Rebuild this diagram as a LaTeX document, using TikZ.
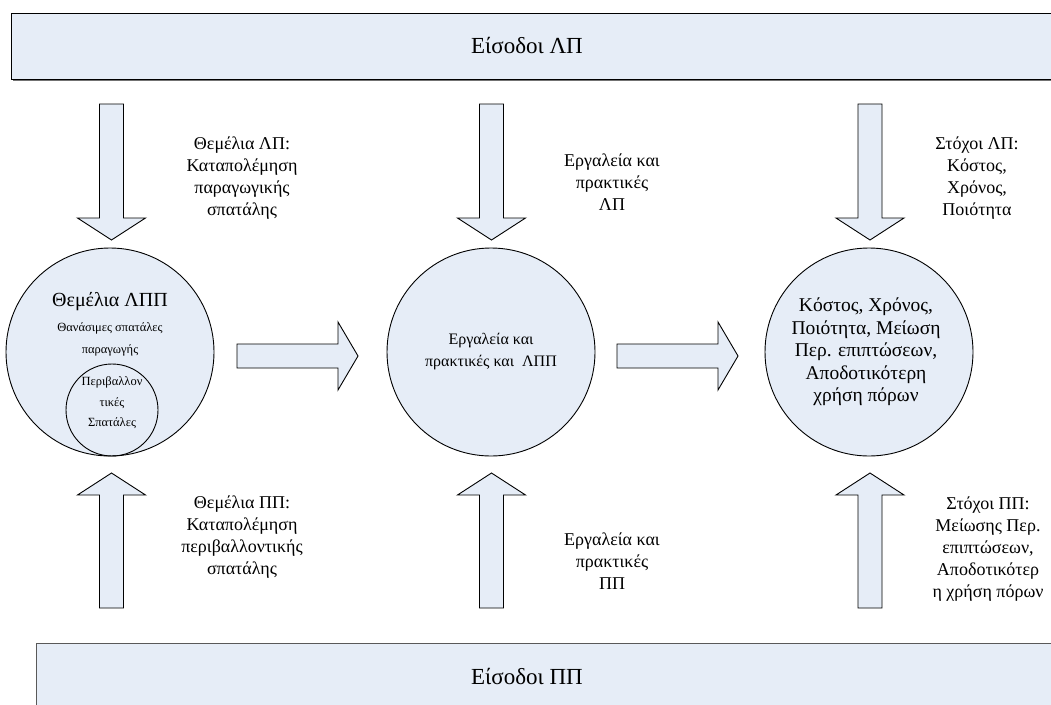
\documentclass[tikz,border=0pt]{standalone}
\usepackage{fontspec}
\setmainfont{Liberation Serif}
\definecolor{fillblue}{RGB}{230,237,247}
\newcommand\arrdown[3]{% x, top, tip
  \draw[barrow] (#1-12,#2) -- (#1+12,#2) -- (#1+12,#3-22) -- (#1+34,#3-22) -- (#1,#3) -- (#1-34,#3-22) -- (#1-12,#3-22) -- cycle;}
\newcommand\arrup[3]{% x, bottom, tip
  \draw[barrow] (#1-12,#2) -- (#1+12,#2) -- (#1+12,#3+22) -- (#1+34,#3+22) -- (#1,#3) -- (#1-34,#3+22) -- (#1-12,#3+22) -- cycle;}
\newcommand\arrright[3]{% y, left, tip
  \draw[barrow] (#2,#1-12) -- (#3-20,#1-12) -- (#3-20,#1-34) -- (#3,#1) -- (#3-20,#1+34) -- (#3-20,#1+12) -- (#2,#1+12) -- cycle;}
\begin{document}
\begin{tikzpicture}[x=1pt,y=-1pt,
  shapefill/.style={fill=fillblue,draw=black,line width=0.9pt},
  barrow/.style={fill=fillblue,draw=black,line width=0.9pt,line join=miter},
  lbl/.style={align=center,font=\fontsize{18}{22}\selectfont,inner sep=0pt},
  ctext/.style={align=center,inner sep=0pt}]
\useasboundingbox (0,0) rectangle (1051,704);
\clip (0,0) rectangle (1051,704);
\fill[white] (0,0) rectangle (1051,704);
% top bar
\fill[black!55] (12.5,15.5) rectangle (1062,81);
\node[shapefill, anchor=north west, minimum width=1050, minimum height=66, inner sep=0pt] (topbar) at (10.5,13) {};
\node[ctext, font=\fontsize{23}{26}\selectfont] (toptext) at (527,46) {Είσοδοι ΛΠ};
% bottom bar
\node[fill=fillblue, draw=black!65, line width=1pt, anchor=north west, minimum width=1050, minimum height=80, inner sep=0pt] (botbar) at (36,643) {};
\node[ctext, font=\fontsize{23}{26}\selectfont] (bottext) at (527,676) {Είσοδοι ΠΠ};
% circles
\node[circle, shapefill, minimum size=208, inner sep=0pt] (c1) at (110,352) {};
\node[circle, shapefill, minimum size=208, inner sep=0pt] (c2) at (491,352) {};
\node[circle, shapefill, minimum size=208, inner sep=0pt] (c3) at (869,352) {};
\node[circle, draw=black, line width=0.9pt, minimum size=92, inner sep=0pt] (c1in) at (112,410) {};
% circle texts
\node[ctext, font=\fontsize{20}{22}\selectfont] (t1a) at (110,302) {Θεμέλια ΛΠΠ};
\node[ctext, font=\fontsize{12.5}{22}\selectfont] (t1b) at (110,339) {Θανάσιμες σπατάλες\\παραγωγής};
\node[ctext, font=\fontsize{12.5}{20.5}\selectfont] (t1c) at (112,403) {Περιβαλλον\\τικές\\Σπατάλες};
\node[ctext, font=\fontsize{16}{22}\selectfont] (t2) at (491,352) {Εργαλεία και\\πρακτικές και\ \ ΛΠΠ};
\node[ctext, font=\fontsize{19.5}{22.5}\selectfont] (t3) at (866,352) {Κόστος, Χρόνος,\\Ποιότητα, Μείωση\\Περ. επιπτώσεων,\\Αποδοτικότερη\\χρήση πόρων};
% vertical arrows
\arrdown{111.5}{104}{240}
\arrdown{491.5}{104}{240}
\arrdown{870}{104}{240}
\arrup{111.5}{608}{473}
\arrup{491.5}{608}{473}
\arrup{870}{608}{473}
% horizontal arrows
\arrright{356}{237}{358}
\arrright{356}{617}{738}
% labels
\node[lbl] (l1) at (242,178) {Θεμέλια ΛΠ:\\Καταπολέμηση\\παραγωγικής\\σπατάλης};
\node[lbl] (l2) at (612,182) {Εργαλεία και\\πρακτικές\\ΛΠ};
\node[lbl] (l3) at (977,178) {Στόχοι ΛΠ:\\Κόστος,\\Χρόνος,\\Ποιότητα};
\node[lbl] (l4) at (242,537) {Θεμέλια ΠΠ:\\Καταπολέμηση\\περιβαλλοντικής\\σπατάλης};
\node[lbl] (l5) at (612,561) {Εργαλεία και\\πρακτικές\\ΠΠ};
\node[lbl] (l6) at (988,549) {Στόχοι ΠΠ:\\Μείωσης Περ.\\επιπτώσεων,\\Αποδοτικότερ\\η χρήση πόρων};
\end{tikzpicture}
\end{document}
